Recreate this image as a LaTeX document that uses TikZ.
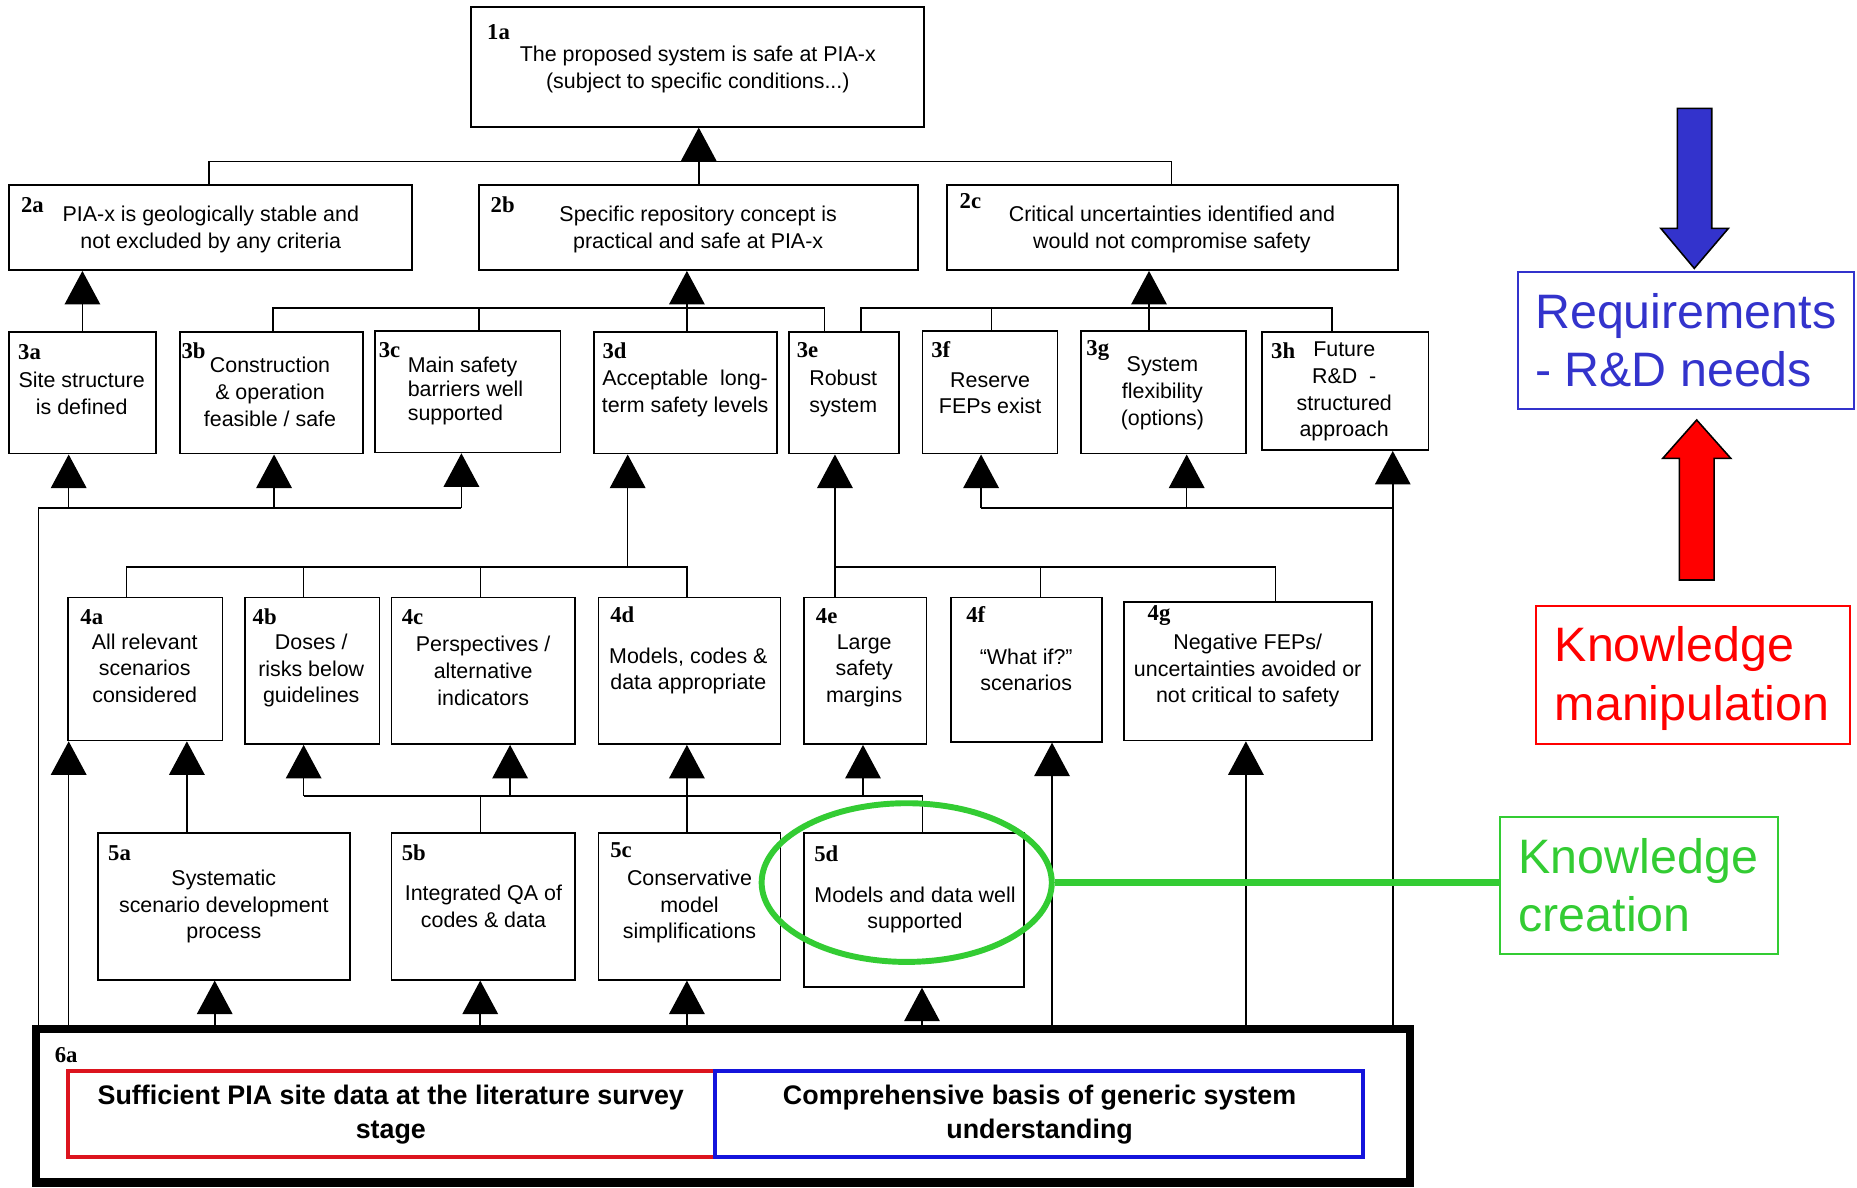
\documentclass[tikz,border=0pt]{standalone}
\usepackage{fontspec}
\setmainfont{Liberation Sans}
\newfontfamily\lblfont{Liberation Serif}
\usetikzlibrary{arrows.meta,fit,shapes.geometric}
\definecolor{kblue}{RGB}{51,51,204}
\definecolor{kred}{RGB}{255,0,0}
\definecolor{kgreen}{RGB}{51,204,51}
\definecolor{bred}{RGB}{220,20,30}
\definecolor{bblue}{RGB}{20,20,220}
\begin{document}
\begin{tikzpicture}[x=0.6pt,y=-0.6pt,
  box/.style={draw, line width=0.9pt, inner sep=0pt},
  lbl/.style={anchor=west, inner sep=0pt, font=\lblfont\bfseries\fontsize{11.5}{12}\selectfont},
  txt/.style={inner sep=0pt, align=center, font=\fontsize{10.85}{13.56}\selectfont},
  big/.style={anchor=base west, inner sep=0pt, font=\fontsize{24.5}{29.6}\selectfont},
  bold/.style={anchor=base, inner sep=0pt, font=\bfseries\fontsize{13.6}{16.8}\selectfont},
  ln/.style={line width=0.8pt},
  arr/.style={line width=0.8pt, -{Triangle[width=18pt,length=17pt]}}]
\useasboundingbox[fill=white] (0,0) rectangle (1568,1003);

% ---------- boxes ----------
\node[box, fit={(398,6.2) (780,107)}] (n1a) {};
\node[box, fit={(7.5,156) (347.6,228)}] (n2a) {};
\node[box, fit={(404.7,156) (774.8,228)}] (n2b) {};
\node[box, fit={(799.6,156) (1180.5,228)}] (n2c) {};
\node[box, fit={(7.5,280) (131.7,383)}] (n3a) {};
\node[box, fit={(151.7,280) (306.5,383)}] (n3b) {};
\node[box, fit={(316.5,279.5) (473.3,382)}] (n3c) {};
\node[box, fit={(501.8,280) (656,383)}] (n3d) {};
\node[box, fit={(666,280) (758.8,383)}] (n3e) {};
\node[box, fit={(779,279.5) (893,383)}] (n3f) {};
\node[box, fit={(912.8,279.5) (1052,383)}] (n3g) {};
\node[box, fit={(1065.6,280.6) (1206.2,380)}] (n3h) {};
\node[box, fit={(57.6,504.5) (187.8,625.2)}] (n4a) {};
\node[box, fit={(206.8,504.5) (320.5,628.2)}] (n4b) {};
\node[box, fit={(330.6,504.5) (485.8,628.2)}] (n4c) {};
\node[box, fit={(505.3,504.5) (659,628.2)}] (n4d) {};
\node[box, fit={(678.6,504.5) (782.3,628.2)}] (n4e) {};
\node[box, fit={(802.8,504.5) (930.5,626.3)}] (n4f) {};
\node[box, fit={(949,508.4) (1158.4,625.2)}] (n4g) {};
\node[box, fit={(82.6,703.5) (295.5,827.2)}] (n5a) {};
\node[box, fit={(330.6,703.5) (485.8,827.2)}] (n5b) {};
\node[box, fit={(505.3,703.5) (659,827.2)}] (n5c) {};
\node[box, fit={(678.6,703.5) (864.6,833.2)}] (n5d) {};
\node[box, line width=4.3pt, fit={(30.4,869) (1190.4,998.4)}] (n6a) {};
\node[draw=bred, line width=2pt, inner sep=0pt, fit={(57.4,904) (604,976.8)}] (red6) {};
\node[draw=bblue, line width=2pt, inner sep=0pt, fit={(604,904) (1151,976.8)}] (blue6) {};

% ---------- labels ----------
\node[lbl] (l1a) at (411,27.5) {1a};
\node[lbl] (l2a) at (17.5,173) {2a};
\node[lbl] (l2b) at (414,173) {2b};
\node[lbl] (l2c) at (810,170) {2c};
\node[lbl] (l3a) at (15,297) {3a};
\node[lbl] (l3b) at (153,296) {3b};
\node[lbl] (l3c) at (319.5,296) {3c};
\node[lbl] (l3d) at (508.5,296) {3d};
\node[lbl] (l3e) at (672.5,296) {3e};
\node[lbl] (l3f) at (786,295) {3f};
\node[lbl] (l3g) at (917,296) {3g};
\node[lbl] (l3h) at (1073,296) {3h};
\node[lbl] (l4a) at (67.6,521) {4a};
\node[lbl] (l4b) at (213,521) {4b};
\node[lbl] (l4c) at (339,521) {4c};
\node[lbl] (l4d) at (515,519) {4d};
\node[lbl] (l4e) at (688.6,520) {4e};
\node[lbl] (l4f) at (815.6,519) {4f};
\node[lbl] (l4g) at (968.7,520) {4g};
\node[lbl] (l5a) at (91,720) {5a};
\node[lbl] (l5b) at (339,720) {5b};
\node[lbl] (l5c) at (515,718) {5c};
\node[lbl] (l5d) at (687.3,720.5) {5d};
\node[lbl] (l6a) at (46,891) {6a};

% ---------- texts ----------
\node[txt] (t1a) at (589.2,58.5) {The proposed system is safe at PIA-x\\(subject to specific conditions...)};
\node[txt] (t2a) at (178,193.5) {PIA-x is geologically stable and\\not excluded by any criteria};
\node[txt] (t2b) at (589.5,193.5) {Specific repository concept is\\practical and safe at PIA-x};
\node[txt] (t2c) at (989.5,193.5) {Critical uncertainties identified and\\would not compromise safety};
\node[txt] (t3a) at (69,332) {Site structure\\is defined};
\node[txt] (t3b) at (228,331) {Construction\\\& operation\\feasible / safe};
\node[txt, align=left, anchor=west, font=\fontsize{10.85}{12.3}\selectfont] (t3c) at (344,330) {Main safety\\barriers well\\supported};
\node[txt] (t3d) at (578.5,332) {Acceptable\ \ long-\\term safety levels};
\node[txt] (t3e) at (712,332) {Robust\\system};
\node[txt] (t3f) at (836,332) {Reserve\\FEPs exist};
\node[txt] (t3g) at (981.5,332) {System\\flexibility\\(options)};
\node[txt] (t3h) at (1135,330.6) {Future\\R\&D\ \ -\\structured\\approach};
\node[txt] (t4a) at (122.2,564.3) {All relevant\\scenarios\\considered};
\node[txt] (t4b) at (262.8,566.3) {Doses /\\risks below\\guidelines};
\node[txt] (t4c) at (408,566.3) {Perspectives /\\alternative\\indicators};
\node[txt] (t4d) at (581.2,566.5) {Models, codes \&\\data appropriate};
\node[txt] (t4e) at (729.7,566.3) {Large\\safety\\margins};
\node[txt] (t4f) at (866.5,565.6) {``What if?''\\scenarios};
\node[txt] (t4g) at (1053.5,566.3) {Negative FEPs/\\uncertainties avoided or\\not critical to safety};
\node[txt] (t5a) at (189,765.4) {Systematic\\scenario development\\process};
\node[txt] (t5b) at (408.2,765.4) {Integrated QA of\\codes \& data};
\node[txt] (t5c) at (582.2,765.4) {Conservative\\model\\simplifications};
\node[txt] (t5d) at (772.6,768.4) {Models and data well\\supported};
\node[bold] (t6r1) at (330,933) {Sufficient PIA site data at the literature survey};
\node[bold] (t6r2) at (330,961.2) {stage};
\node[bold] (t6b1) at (877.8,933) {Comprehensive basis of generic system};
\node[bold] (t6b2) at (877.8,961.2) {understanding};

% ---------- level 1 ----------
\coordinate (j1L) at (176.3,136.5);
\coordinate (j1M) at (590,136.5);
\coordinate (j1R) at (989.3,136.5);
\draw[ln] (j1L |- n2a.north) -- (j1L) -- (j1R) -- (j1R |- n2c.north);
\draw[ln] (j1M) -- (j1M |- n2b.north);
\draw[arr] (j1M) -- (j1M |- n1a.south);

% ---------- level 2 ----------
\draw[arr] (n3a.north) -- (n3a.north |- n2a.south);
\coordinate (j2a) at (230.4,260);
\coordinate (j2b) at (404.6,260);
\coordinate (j2c) at (580,260);
\coordinate (j2d) at (696,260);
\draw[ln] (j2a |- n3b.north) -- (j2a) -- (j2d) -- (j2d |- n3e.north);
\draw[ln] (j2b) -- (j2b |- n3c.north);
\draw[ln] (j2c) -- (j2c |- n3d.north);
\draw[arr] (j2c) -- (j2c |- n2b.south);
\coordinate (j2e) at (727,260);
\coordinate (j2f) at (837.2,260);
\coordinate (j2g) at (970.2,260);
\coordinate (j2h) at (1124.7,260);
\draw[ln] (j2e |- n3e.north) -- (j2e) -- (j2h) -- (j2h |- n3h.north);
\draw[ln] (j2f) -- (j2f |- n3f.north);
\draw[ln] (j2g) -- (j2g |- n3g.north);
\draw[arr] (j2g) -- (j2g |- n2c.south);

% ---------- level 3 ----------
\coordinate (j3a) at (32.5,429);
\coordinate (j3b) at (58,429);
\coordinate (j3c) at (231.4,429);
\coordinate (j3d) at (389.6,429);
\draw[ln] (j3a |- n6a.north) -- (j3a) -- (j3d);
\draw[arr] (j3b) -- (j3b |- n3a.south);
\draw[arr] (j3c) -- (j3c |- n3b.south);
\draw[arr] (j3d) -- (j3d |- n3c.south);
\coordinate (j3f) at (828.4,429);
\coordinate (j3g) at (1002,429);
\coordinate (j3h) at (1176,429);
\draw[ln] (j3f) -- (j3h) -- (j3h |- n6a.north);
\draw[arr] (j3f) -- (j3f |- n3f.south);
\draw[arr] (j3g) -- (j3g |- n3g.south);
\draw[arr] (j3h) -- (j3h |- n3h.south);

% ---------- level 4 bars ----------
\coordinate (j4a) at (106.7,478.9);
\coordinate (j4b) at (256.4,478.9);
\coordinate (j4c) at (405.7,478.9);
\coordinate (j4x) at (530,478.9);
\coordinate (j4d) at (580,478.9);
\draw[ln] (j4a |- n4a.north) -- (j4a) -- (j4d) -- (j4d |- n4d.north);
\draw[ln] (j4b) -- (j4b |- n4b.north);
\draw[ln] (j4c) -- (j4c |- n4c.north);
\draw[arr] (j4x) -- (j4x |- n3d.south);
\coordinate (j4e) at (705,478.9);
\coordinate (j4f) at (878.5,478.9);
\coordinate (j4g) at (1077,478.9);
\draw[ln] (j4e |- n4e.north) -- (j4e) -- (j4g) -- (j4g |- n4g.north);
\draw[ln] (j4f) -- (j4f |- n4f.north);
\draw[arr] (j4e) -- (j4e |- n3e.south);

% ---------- level 4 arrows ----------
\draw[arr] (j3b |- n6a.north) -- (j3b |- n4a.south);
\coordinate (x5a) at (157.8,690);
\draw[arr] (x5a |- n5a.north) -- (x5a |- n4a.south);
\coordinate (j5b) at (256.4,672);
\coordinate (j5c) at (405.7,672);
\coordinate (j5d) at (430.7,672);
\coordinate (j5e) at (728.7,672);
\coordinate (j5f) at (778.8,672);
\draw[ln] (j5b) -- (j5f) -- (j5f |- n5d.north);
\draw[ln] (j5c) -- (j5c |- n5b.north);
\draw[arr] (j5b) -- (j5b |- n4b.south);
\draw[arr] (j5d) -- (j5d |- n4c.south);
\draw[arr] (j5e) -- (j5e |- n4e.south);
\coordinate (x5c) at (580,690);
\draw[arr] (x5c |- n5c.north) -- (x5c |- n4d.south);
\coordinate (x4f) at (888.3,690);
\draw[arr] (x4f |- n6a.north) -- (x4f |- n4f.south);
\coordinate (x4g) at (1052,690);
\draw[arr] (x4g |- n6a.north) -- (x4g |- n4g.south);

% ---------- level 5 arrows ----------
\coordinate (x6a) at (181.3,850);
\coordinate (x6b) at (405.5,850);
\coordinate (x6c) at (580,850);
\coordinate (x6d) at (778.5,850);
\draw[arr] (x6a |- n6a.north) -- (x6a |- n5a.south);
\draw[arr] (x6b |- n6a.north) -- (x6b |- n5b.south);
\draw[arr] (x6c |- n6a.north) -- (x6c |- n5c.south);
\draw[arr] (x6d |- n6a.north) -- (x6d |- n5d.south);

% ---------- right side ----------
\node[draw=kblue, line width=1pt, inner sep=0pt, fit={(1281.5,229.4) (1565.5,345)}] (req) {};
\node[big, text=kblue] (req1) at (1296,277.2) {Requirements};
\node[big, text=kblue] (req2) at (1296,326) {- R\&D needs};
\node[draw=kred, line width=1pt, inner sep=0pt, fit={(1297,511.7) (1562,628)}] (km) {};
\node[big, text=kred] (km1) at (1312.5,558.7) {Knowledge};
\node[big, text=kred] (km2) at (1312.5,608) {manipulation};
\node[draw=kgreen, line width=1pt, inner sep=0pt, fit={(1266.5,690.1) (1501,805.5)}] (kc) {};
\node[big, text=kgreen] (kc1) at (1282,737.4) {Knowledge};
\node[big, text=kgreen] (kc2) at (1282,786.7) {creation};

\draw[fill=kblue, line width=0.8pt, line join=miter] (1416.3,91.5) -- (1445.3,91.5) -- (1445.3,192.8) -- (1459.4,192.8) -- (1430.6,226.6) -- (1402.3,192.8) -- (1416.3,192.8) -- cycle;
\draw[fill=kred, line width=0.8pt, line join=miter] (1418,489.7) -- (1447.3,489.7) -- (1447.3,387) -- (1461.4,387) -- (1432.6,354.6) -- (1404,387) -- (1418,387) -- cycle;

% ---------- green ellipse and link ----------
\node[draw=kgreen, ellipse, line width=3pt, inner sep=0pt, minimum width=147pt, minimum height=80.4pt] (ell) at (765.6,745.2) {};
\draw[kgreen, line width=3.3pt] (ell.east) -- (kc.west |- ell.east);
\end{tikzpicture}
\end{document}
